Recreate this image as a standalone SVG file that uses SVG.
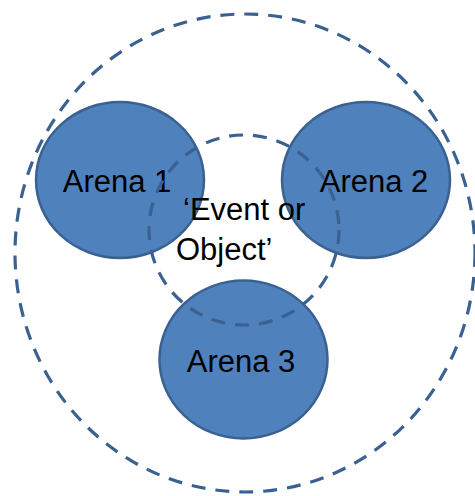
<svg xmlns="http://www.w3.org/2000/svg" width="475" height="496" viewBox="0 0 475 496">
  <style>
    .arena { fill: #4F81BD; stroke: #3A6190; stroke-width: 2.5; }
    .ring { fill: none; stroke: #3A6190; stroke-width: 3.2; stroke-dasharray: 14 10; }
    .label { font-family: "Liberation Sans", Arial, sans-serif; font-size: 31px; fill: #000; }
  </style>
  <rect width="475" height="496" fill="#fff"/>
  <!-- outer boundary -->
  <g id="boundary">
    <ellipse class="ring" cx="245" cy="253" rx="230" ry="239"/>
  </g>
  <g id="arena1">
    <ellipse class="arena" cx="120" cy="180" rx="84" ry="78"/>
    <text class="label" x="117" y="192" text-anchor="middle">Arena 1</text>
  </g>
  <g id="arena2">
    <ellipse class="arena" cx="366" cy="180" rx="84" ry="78"/>
    <text class="label" x="374" y="192" text-anchor="middle">Arena 2</text>
  </g>
  <g id="arena3">
    <ellipse class="arena" cx="243.5" cy="359.5" rx="84" ry="79"/>
    <text class="label" x="241" y="372" text-anchor="middle">Arena 3</text>
  </g>
  <!-- shared core, drawn above the arenas -->
  <g id="core">
    <circle class="ring" cx="244" cy="230" r="95" stroke-dasharray="13 9"/>
    <text class="label" x="183" y="220">‘Event or</text>
    <text class="label" x="176" y="260">Object’</text>
  </g>
</svg>
